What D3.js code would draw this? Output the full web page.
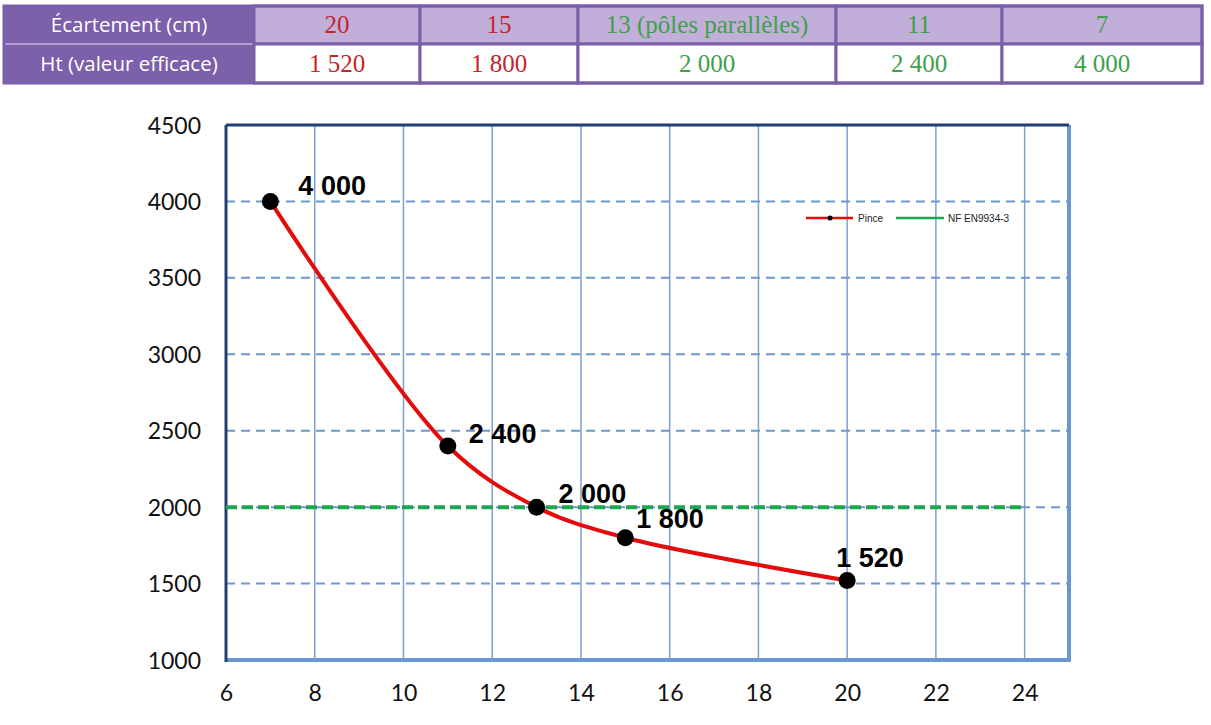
<!DOCTYPE html>
<html>
<head>
<meta charset="utf-8">
<script src="https://cdn.jsdelivr.net/npm/d3@7"></script>
<style>
  html, body { margin: 0; padding: 0; background: #fff; }
  svg { display: block; }
</style>
</head>
<body>
<svg id="chart" width="1211" height="725"></svg>
<script>
// ---------- DATA ----------
const rowHeaders = ["Écartement (cm)", "Ht (valeur efficace)"];
const spacingLabels = ["20", "15", "13 (pôles parallèles)", "11", "7"];
const htLabels = ["1 520", "1 800", "2 000", "2 400", "4 000"];
const spacing = [20, 15, 13, 11, 7];
const htValues = [1520, 1800, 2000, 2400, 4000];
const normValue = 2000;
const seriesNames = ["Pince", "NF EN9934-3"];
const xTicks = [6, 8, 10, 12, 14, 16, 18, 20, 22, 24];
const yTicks = [1000, 1500, 2000, 2500, 3000, 3500, 4000, 4500];

// ---------- STYLE / LAYOUT ----------
const cellColors = ["#c0272d", "#c0272d", "#3ea04a", "#3ea04a", "#3ea04a"];
const labelOffsets = [[-11, -14], [11, -10], [22, -4], [21, -3], [28, -6]];

const svg = d3.select("#chart");

// ---------- TABLE ----------
const tbl = svg.append("g");
const colEdges = [4, 254, 420, 578, 836, 1002, 1202];
const rowEdges = [6, 44, 83];
const purple = "#7b5ea8";
tbl.append("rect").attr("x", colEdges[0]).attr("y", rowEdges[0])
  .attr("width", colEdges[1] - colEdges[0]).attr("height", rowEdges[2] - rowEdges[0])
  .attr("fill", "#7d60aa");
tbl.append("line").attr("x1", colEdges[0]).attr("x2", colEdges[1])
  .attr("y1", rowEdges[1]).attr("y2", rowEdges[1])
  .attr("stroke", "#b4a0d0").attr("stroke-width", 2);
rowHeaders.forEach((t, i) => {
  tbl.append("text").attr("x", (colEdges[0] + colEdges[1]) / 2)
    .attr("y", (rowEdges[i] + rowEdges[i + 1]) / 2 + 7)
    .attr("text-anchor", "middle").attr("fill", "#fff")
    .attr("font-family", "'Open Sans', sans-serif").attr("font-size", 20.5)
    .text(t);
});
spacingLabels.forEach((lab, j) => {
  const x0 = colEdges[j + 1], x1 = colEdges[j + 2];
  [lab, htLabels[j]].forEach((t, i) => {
    tbl.append("rect").attr("x", x0).attr("y", rowEdges[i])
      .attr("width", x1 - x0).attr("height", rowEdges[i + 1] - rowEdges[i])
      .attr("fill", i === 0 ? "#c2afd9" : "#ffffff")
      .attr("stroke", purple).attr("stroke-width", 3);
    tbl.append("text").attr("x", (x0 + x1) / 2)
      .attr("y", (rowEdges[i] + rowEdges[i + 1]) / 2 + 8)
      .attr("text-anchor", "middle").attr("fill", cellColors[j])
      .attr("font-family", "'Liberation Serif', serif").attr("font-size", 25)
      .attr("textLength", null)
      .text(t);
  });
});
tbl.append("rect").attr("x", colEdges[0]).attr("y", rowEdges[0])
  .attr("width", colEdges[6] - colEdges[0]).attr("height", rowEdges[2] - rowEdges[0])
  .attr("fill", "none").attr("stroke", purple).attr("stroke-width", 3);

// ---------- CHART ----------
const pLeft = 226, pRight = 1069, pTop = 125, pBottom = 660;
const x = d3.scaleLinear().domain([6, 25]).range([pLeft, pRight]);
const y = d3.scaleLinear().domain([1000, 4500]).range([pBottom, pTop]);

const plot = svg.append("g");
plot.selectAll(".vg").data(xTicks.slice(1)).join("line")
  .attr("x1", d => x(d)).attr("x2", d => x(d))
  .attr("y1", pTop).attr("y2", pBottom)
  .attr("stroke", "#7ba1d4").attr("stroke-width", 1.5);
plot.selectAll(".hg").data(yTicks.slice(1, -1)).join("line")
  .attr("x1", pLeft).attr("x2", pRight)
  .attr("y1", d => y(d)).attr("y2", d => y(d))
  .attr("stroke", "#6f97cc").attr("stroke-width", 2)
  .attr("stroke-dasharray", "9,6");

plot.append("line").attr("x1", pRight).attr("x2", pRight).attr("y1", pTop).attr("y2", pBottom)
  .attr("stroke", "#6b97d0").attr("stroke-width", 4);
plot.append("line").attr("x1", pLeft).attr("x2", pRight + 2).attr("y1", pBottom).attr("y2", pBottom)
  .attr("stroke", "#6b97d0").attr("stroke-width", 4);
plot.append("line").attr("x1", pLeft).attr("x2", pRight).attr("y1", pTop).attr("y2", pTop)
  .attr("stroke", "#233e72").attr("stroke-width", 3);
plot.append("line").attr("x1", pLeft).attr("x2", pLeft).attr("y1", pTop).attr("y2", pBottom + 2)
  .attr("stroke", "#233e72").attr("stroke-width", 3);

const yAxis = d3.axisLeft(y).tickValues(yTicks).tickFormat(d3.format("d")).tickSize(0).tickPadding(25);
svg.append("g").attr("transform", `translate(${pLeft},0)`).call(yAxis)
  .call(g => g.select(".domain").remove())
  .call(g => g.selectAll("text").attr("font-family", "Lato, 'Open Sans', sans-serif")
    .attr("font-size", 23).attr("fill", "#111").attr("dy", "0.35em"));
const xAxis = d3.axisBottom(x).tickValues(xTicks).tickFormat(d3.format("d")).tickSize(0).tickPadding(25);
svg.append("g").attr("transform", `translate(0,${pBottom})`).call(xAxis)
  .call(g => g.select(".domain").remove())
  .call(g => g.selectAll("text").attr("font-family", "Lato, 'Open Sans', sans-serif")
    .attr("font-size", 23).attr("fill", "#111"));

plot.append("line").attr("x1", pLeft).attr("x2", x(24))
  .attr("y1", y(normValue)).attr("y2", y(normValue))
  .attr("stroke", "#1ea54f").attr("stroke-width", 4)
  .attr("stroke-dasharray", "11,5");

const pts = spacing.map((s, i) => ({ x: s, y: htValues[i], label: htLabels[i], off: labelOffsets[i] }))
  .sort((a, b) => a.x - b.x);
const line = d3.line().x(d => x(d.x)).y(d => y(d.y)).curve(d3.curveCatmullRom.alpha(0.5));
plot.append("path").datum(pts).attr("d", line)
  .attr("fill", "none").attr("stroke", "#e30b0b").attr("stroke-width", 4);
plot.selectAll(".pt").data(pts).join("circle")
  .attr("cx", d => x(d.x)).attr("cy", d => y(d.y)).attr("r", 8.5).attr("fill", "#000");
plot.selectAll(".lbl").data(pts).join("text")
  .attr("x", d => x(d.x) + d.off[0]).attr("y", d => y(d.y) + d.off[1])
  .attr("font-family", "'Liberation Sans', Arial, sans-serif").attr("font-weight", "bold")
  .attr("font-size", 27).attr("fill", "#000").text(d => d.label);

const lg = svg.append("g").attr("font-family", "'Liberation Sans', Arial, sans-serif").attr("font-size", 10);
lg.append("line").attr("x1", 806).attr("x2", 853).attr("y1", 218).attr("y2", 218)
  .attr("stroke", "#e30b0b").attr("stroke-width", 2.5);
lg.append("circle").attr("cx", 830).attr("cy", 218).attr("r", 2.5).attr("fill", "#000");
lg.append("text").attr("x", 858).attr("y", 222).attr("fill", "#222").text(seriesNames[0]);
lg.append("line").attr("x1", 896).attr("x2", 944).attr("y1", 218).attr("y2", 218)
  .attr("stroke", "#1ea54f").attr("stroke-width", 2.5);
lg.append("text").attr("x", 948).attr("y", 222).attr("fill", "#222").text(seriesNames[1]);
</script>
</body>
</html>
